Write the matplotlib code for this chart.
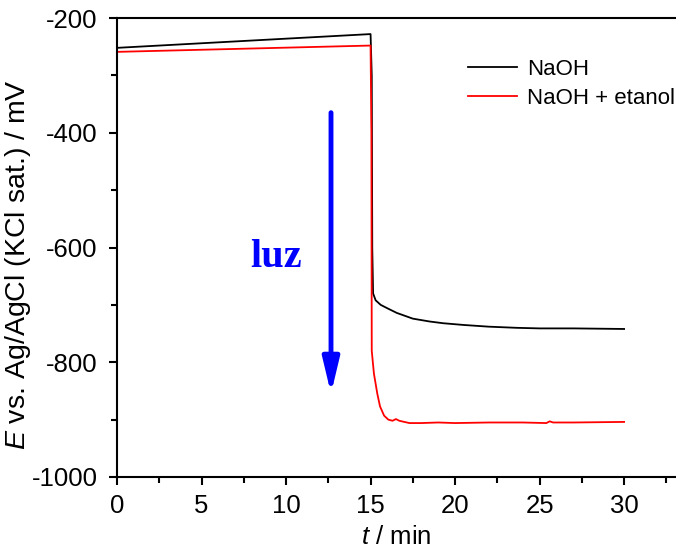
import matplotlib
matplotlib.use("Agg")
import matplotlib.pyplot as plt
from matplotlib.ticker import MultipleLocator

plt.rcParams['font.family'] = ['Liberation Sans', 'DejaVu Sans']
plt.rcParams['axes.unicode_minus'] = False
plt.rcParams['mathtext.fontset'] = 'custom'
plt.rcParams['mathtext.rm'] = 'Liberation Sans'
plt.rcParams['mathtext.it'] = 'Liberation Sans:italic'

# Potential transients (t in min, E in mV)
t_naoh = [0, 5, 10, 15, 15.07, 15.1, 15.15, 15.3, 15.6, 16.0, 16.55, 17.5,
          18.5, 19.3, 20.5, 22, 23.65, 25, 27, 30]
e_naoh = [-252, -244, -236, -228, -300, -600, -680, -692, -700, -706, -714,
          -724, -729, -732, -735, -738, -740, -741, -741, -742]

t_etanol = [0, 15, 15.05, 15.07, 15.2, 15.4, 15.56, 15.8, 16.05, 16.3, 16.5,
            16.7, 17.0, 17.3, 18, 19, 20, 22, 24, 25.4, 25.6, 25.8, 27, 30]
e_etanol = [-259, -248, -400, -780, -820, -855, -877, -893, -900, -902, -899,
            -902, -904, -906, -906, -905, -906, -905, -905, -906, -903, -905,
            -905, -904]

series_labels = ['NaOH', 'NaOH + etanol']
x_ticks = [0, 5, 10, 15, 20, 25, 30]
y_ticks = [-1000, -800, -600, -400, -200]

fig = plt.figure(figsize=(6.76, 5.56), dpi=100)
ax = fig.add_axes([0.1731, 0.1421, 0.8269, 0.8255])

ax.plot(t_naoh, e_naoh, color='black', lw=1.3, label=series_labels[0])
ax.plot(t_etanol, e_etanol, color='red', lw=1.3, label=series_labels[1])

ax.set_xlim(0, 33.07)
ax.set_ylim(-1000, -200)
ax.set_xticks(x_ticks)
ax.set_yticks(y_ticks)
ax.xaxis.set_minor_locator(MultipleLocator(2.5))
ax.yaxis.set_minor_locator(MultipleLocator(100))

for s in ['left', 'bottom', 'top']:
    ax.spines[s].set_linewidth(1.5)
ax.spines['right'].set_visible(False)
ax.tick_params(which='both', direction='out', width=1.5, labelsize=18.5,
               top=False, right=False)
ax.tick_params(which='major', length=6)
ax.tick_params(which='minor', length=4)
ax.tick_params(axis='x', which='major', pad=6)
ax.tick_params(axis='y', which='major', pad=8)

ax.set_xlabel(r'$\it{t}$ / min', fontsize=18.5, labelpad=5)
ax.set_ylabel(r'$\it{E}$ vs. Ag/AgCl (KCl sat.) / mV', fontsize=20.5)
ax.yaxis.set_label_coords(-0.150, 0.462)

leg = ax.legend(loc='upper right', bbox_to_anchor=(1.014, 0.93), frameon=False,
                fontsize=16, handlelength=2.2, handletextpad=0.45,
                labelspacing=0.35, borderaxespad=0.0)

# illumination arrow
ax.annotate('', xy=(12.66, -855), xytext=(12.66, -365),
            arrowprops=dict(arrowstyle='-|>,head_width=0.5,head_length=2.1',
                            color='blue', lw=3.5, shrinkA=0, shrinkB=0))
ax.text(9.4, -617, 'luz', color='blue', fontsize=29, fontweight='bold',
        family='Liberation Serif', ha='center', va='center')

fig.savefig('out.png', dpi=100)
